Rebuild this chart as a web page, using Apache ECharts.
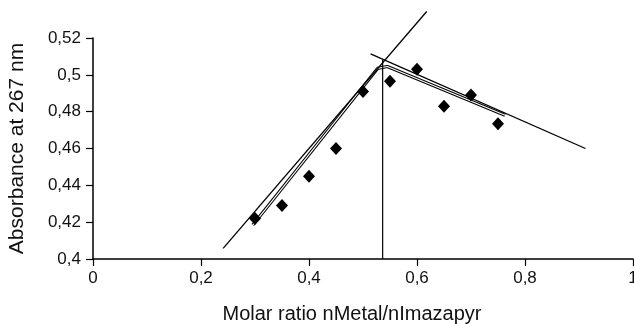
<!DOCTYPE html>
<html><head><meta charset="utf-8">
<script src="https://cdn.jsdelivr.net/npm/echarts@6/dist/echarts.min.js"></script>
<style>html,body{margin:0;padding:0;background:#fff}#c{width:634px;height:324px}</style>
</head><body><div id="c"></div>
<script>
const ratioX = [0.30, 0.35, 0.40, 0.45, 0.50, 0.55, 0.60, 0.65, 0.70, 0.75];
const absorbance = [0.422, 0.429, 0.445, 0.460, 0.491, 0.4965, 0.503, 0.483, 0.489, 0.4735];
const fitX = [0.296, 0.527, 0.545, 0.763];
const fitY = [0.4184, 0.5035, 0.5045, 0.478];
const riseX = [0.241, 0.618];
const riseY = [0.4058, 0.5344];
const fallX = [0.514, 0.912];
const fallY = [0.5114, 0.460];
const eqX = [0.5364, 0.5364];
const eqY = [0.40, 0.508];
const xTicks = [0, 0.2, 0.4, 0.6, 0.8, 1];
const yTicks = [0.40, 0.42, 0.44, 0.46, 0.48, 0.50, 0.52];

const zip = (a, b) => a.map((v, i) => [v, b[i]]);
const fmt = v => String(parseFloat(v.toFixed(2))).replace('.', ',');
const font = 'Liberation Sans, Arial, sans-serif';

const chart = echarts.init(document.getElementById('c'), null, {renderer: 'canvas'});
chart.setOption({
  animation: false,
  backgroundColor: '#fff',
  grid: {left: 93, right: 1, top: 38, bottom: 65, containLabel: false, outerBoundsMode: 'none'},
  xAxis: {
    type: 'value', min: xTicks[0], max: xTicks[xTicks.length - 1], interval: 0.2,
    name: 'Molar ratio nMetal/nImazapyr', nameLocation: 'middle', nameGap: 45,
    nameTextStyle: {color: '#111', fontSize: 20, fontFamily: font, verticalAlign: 'top', padding: [0, 22, 0, 0]},
    axisLine: {onZero: false, lineStyle: {color: '#000', width: 1.5}},
    axisTick: {show: true, length: 7, inside: false, lineStyle: {color: '#000', width: 1.2}},
    axisLabel: {color: '#111', fontSize: 17, fontFamily: font, margin: 11, formatter: fmt},
    splitLine: {show: false}
  },
  yAxis: {
    type: 'value', min: yTicks[0], max: yTicks[yTicks.length - 1], interval: 0.02,
    name: 'Absorbance at 267 nm', nameLocation: 'middle', nameGap: 65,
    nameTextStyle: {color: '#111', fontSize: 21, fontFamily: font},
    axisLine: {show: true, onZero: false, lineStyle: {color: '#000', width: 1.5}},
    axisTick: {show: true, length: 7, inside: false, lineStyle: {color: '#000', width: 1.2}},
    axisLabel: {color: '#111', fontSize: 17, fontFamily: font, margin: 12, formatter: fmt},
    splitLine: {show: false}
  },
  series: [
    {type: 'line', data: zip(fitX, fitY), showSymbol: false, symbol: 'none', z: 1, clip: false,
     lineStyle: {color: '#000', width: 3.2}},
    {type: 'line', data: zip(fitX, fitY), showSymbol: false, symbol: 'none', z: 2, clip: false,
     lineStyle: {color: '#fff', width: 1.1}},
    {type: 'line', data: zip(riseX, riseY), showSymbol: false, symbol: 'none', z: 3, clip: false,
     lineStyle: {color: '#000', width: 1.3}},
    {type: 'line', data: zip(fallX, fallY), showSymbol: false, symbol: 'none', z: 3, clip: false,
     lineStyle: {color: '#000', width: 1.3}},
    {type: 'line', data: zip(eqX, eqY), showSymbol: false, symbol: 'none', z: 3, clip: false,
     lineStyle: {color: '#000', width: 1.2}},
    {type: 'scatter', data: zip(ratioX, absorbance), symbol: 'diamond', symbolSize: [12, 13], z: 4,
     itemStyle: {color: '#000', opacity: 1}}
  ]
});
</script></body></html>
